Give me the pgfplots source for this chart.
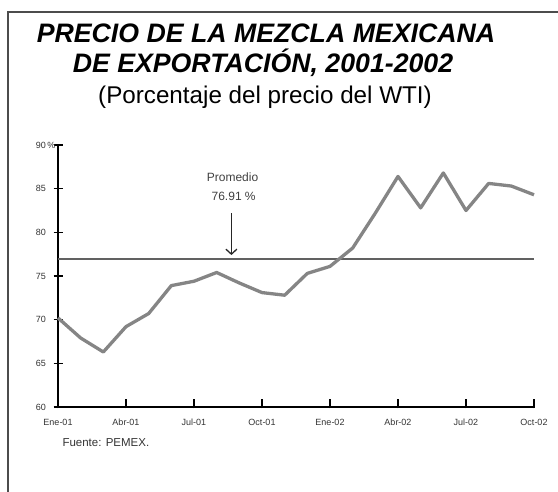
\documentclass[border=0pt]{standalone}
\usepackage{pgfplots}
\pgfplotsset{compat=1.18}
\usepackage{fontspec}
\setmainfont{Liberation Sans}
\usetikzlibrary{arrows.meta}
\begin{document}
\begin{tikzpicture}
\useasboundingbox (0pt,0pt) rectangle (558pt,492pt);
% frame
\draw[line width=1.6pt, black!70] (8pt,0pt) -- (8pt,480pt) -- (558pt,480pt);
% titles
\node[font=\fontsize{26.7}{26.7}\selectfont\bfseries\itshape] at (266pt,459pt) {PRECIO DE LA MEZCLA MEXICANA};
\node[font=\fontsize{26.7}{26.7}\selectfont\bfseries\itshape] at (263pt,429pt) {DE EXPORTACI\'ON, 2001-2002};
\node[font=\fontsize{24.2}{24.2}\selectfont] at (265pt,395pt) {(Porcentaje del precio del WTI)};
\begin{axis}[
  at={(58pt,85pt)}, anchor=origin,
  scale only axis, width=476pt, height=262pt,
  xmin=0, xmax=21, ymin=60, ymax=90,
  axis x line*=bottom, axis y line*=left,
  axis line style={line width=1.2pt, black},
  xtick={0,3,6,9,12,15,18,21},
  xticklabels={Ene-01,Abr-01,Jul-01,Oct-01,Ene-02,Abr-02,Jul-02,Oct-02},
  ytick={60,65,70,75,80,85,90},
  yticklabels={60,65,70,75,80,85,{90\rlap{\,\%}}},
  tick align=center,
  major tick length=9pt,
  tick style={line width=1.1pt, black},
  xtick style={yshift=3pt},
  ticklabel style={font=\fontsize{9}{9}\selectfont, text=black!80},
  yticklabel style={xshift=-4pt},
  xticklabel style={yshift=-3pt, text height=7pt, text depth=2pt},
  clip=false,
]
\addplot[line width=2.2pt, black!62] coordinates {(0,76.91) (21,76.91)};
\addplot[line width=3.3pt, black!48, line join=round] coordinates {
(0,70.2) (1,67.9) (2,66.3) (3,69.2) (4,70.7) (5,73.9) (6,74.4) (7,75.4)
(8,74.2) (9,73.1) (10,72.8) (11,75.3) (12,76.1) (13,78.2) (14,82.2)
(15,86.4) (16,82.8) (17,86.8) (18,82.5) (19,85.6) (20,85.3) (21,84.3)};
\node[font=\fontsize{12}{12}\selectfont, text=black!75] at (axis cs:7.7,86.3) {Promedio};
\node[font=\fontsize{12}{12}\selectfont, text=black!75] at (axis cs:7.75,84.1) {76.91 \%};
\draw[-{Straight Barb[length=5pt,width=11pt,line width=1.3pt]}, line width=1.3pt, black!85] (axis cs:7.65,82.2) -- (axis cs:7.65,77.4);
\end{axis}
\node[font=\fontsize{11.5}{11.5}\selectfont, text=black!80, anchor=west] at (59pt,49pt) {Fuente: PEMEX.};
\end{tikzpicture}
\end{document}
